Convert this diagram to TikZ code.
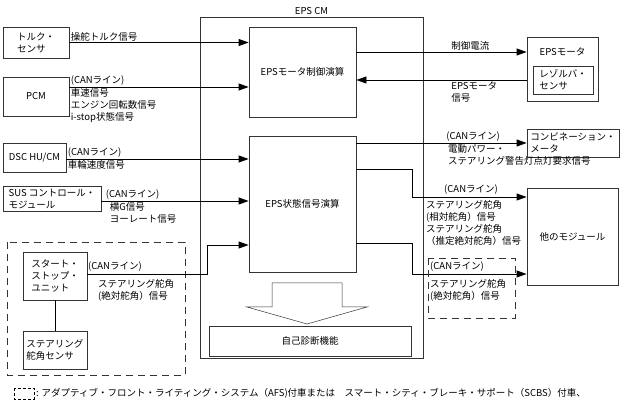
\documentclass[tikz,border=0pt]{standalone}
\usepackage{fontspec}
\setmainfont{Noto Sans CJK JP}
\usetikzlibrary{arrows.meta,positioning,calc}

\begin{document}
\begin{tikzpicture}[x=1pt, y=-1pt, font=\fontsize{9.5}{12}\selectfont,
    box/.style={draw=black!80, line width=0.8pt, inner sep=1pt, align=left},
    sig/.style={-{Triangle[length=10pt,width=7pt]}, line width=0.8pt},
    lbl/.style={inner sep=1pt, align=left},
    grp/.style={draw=black!80, line width=0.9pt, dash pattern=on 7pt off 5pt}]
  \useasboundingbox (0,0) rectangle (635,406);

  % EPS CM
  \node[box, minimum width=223pt, minimum height=341pt] (cm) at (311.5,187.5) {};
  \node[lbl, above=1pt of cm] (cmlbl) {EPS CM};
  \node[box, minimum width=107pt, minimum height=90pt] (mctl) at (302.5,72) {EPSモータ制御演算};
  \node[box, minimum width=107pt, minimum height=136pt] (stat) at (302.5,204) {EPS状態信号演算};
  \node[box, minimum width=202pt, minimum height=30pt] (diag) at (310,341) {自己診断機能};
  \draw[black!80, line width=0.5pt] (272,283) -- (342,283) -- (342,307) -- (367,307)
    -- (307,324) -- (247,307) -- (272,307) -- cycle;

  % inputs
  \node[box, minimum width=66pt, minimum height=31pt] (trq) at (36,42.5) {トルク・\\センサ};
  \node[box, minimum width=66pt, minimum height=39pt] (pcm) at (36,96.5) {PCM};
  \node[box, minimum width=63pt, minimum height=29pt] (dsc) at (34.5,157.5) {DSC HU/CM};
  \node[box, minimum width=98pt, minimum height=25pt] (sus) at (52,198.5) {SUS コントロール・\\モジュール};
  \draw[grp] (7,242) rectangle (185,375);
  \node[box, minimum width=64pt, minimum height=48pt] (ssu) at (55,276) {スタート・\\ストップ・\\ユニット};
  \node[box, minimum width=64pt, minimum height=38pt] (sas) at (55,350) {ステアリング\\舵角センサ};
  \draw[line width=0.8pt] (ssu) -- (sas);

  \draw[sig] (trq.east) -- (trq.east -| mctl.west)
    node[lbl, above right, pos=0] (trqs) {操舵トルク信号};
  \draw[sig] ([yshift=9.5pt]pcm.east) coordinate (pcmo) -- (pcmo -| mctl.west)
    node[lbl, above right, pos=0] (pcmcan) {(CANライン)}
    node[lbl, below right, pos=0] (pcms) {車速信号\\エンジン回転数信号\\i-stop状態信号};
  \draw[sig] ([yshift=-1.5pt]dsc.east) coordinate (dsco) -- (dsco -| stat.west)
    node[lbl, above right, pos=0] (dsccan) {(CANライン)}
    node[lbl, below right, pos=0] (dscs) {車輪速度信号};
  \draw[sig] ([yshift=-2.5pt]sus.east) coordinate (suso) -- (suso -| stat.west)
    node[lbl, above right, pos=0, xshift=3pt] (suscan) {(CANライン)}
    node[lbl, below right, pos=0, xshift=7pt] (suss) {横G信号\\ヨーレート信号};
  \coordinate (ssuk) at (207,245);
  \draw[sig] ([yshift=2pt]ssu.east) -| (ssuk) -- (ssuk -| stat.west);
  \node[lbl, anchor=south west] (ssucan) at (87,273) {(CANライン)};
  \node[lbl, anchor=north west] (ssus) at (97,278) {ステアリング舵角\\(絶対舵角）信号};

  % outputs
  \node[box, minimum width=71pt, minimum height=64pt] (mot) at (562.5,69) {};
  \node[lbl] (motlbl) at (562.5,52) {EPSモータ};
  \node[box, minimum width=60pt, minimum height=28pt] (res) at (563,80) {レゾルバ・\\センサ};
  \node[box, minimum width=92pt, minimum height=28pt] (meter) at (573,143) {コンビネーション・\\メータ};
  \node[box, minimum width=91pt, minimum height=97pt] (oth) at (572.5,236.5) {他のモジュール};

  \draw[sig] ([yshift=20pt]mctl.east) coordinate (mctlo) -- (mctlo -| mot.west)
    node[lbl, above, pos=0.67] (cur) {制御電流};
  \draw[sig] ([yshift=-11pt]mot.west) coordinate (moto) -- (moto -| mctl.east)
    node[lbl, below right, pos=0.45] (mots) {EPSモータ\\信号};
  \draw[sig] (meter.west -| stat.east) -- (meter.west)
    node[lbl, above right, pos=0.52] (metcan) {(CANライン)}
    node[lbl, below right, pos=0.53] (mets) {電動パワー・\\ステアリング警告灯点灯要求信号};
  \coordinate (ok1) at (412,169);
  \draw[sig] (ok1 -| stat.east) -- (ok1) |- ([yshift=39.5pt]oth.west);
  \node[lbl, anchor=south west] (othcan) at (443,196) {(CANライン)};
  \node[lbl, anchor=north west] (oths) at (425,199) {ステアリング舵角\\(相対舵角）信号\\ステアリング舵角\\（推定絶対舵角）信号};
  \coordinate (ok2) at (412,243);
  \draw[sig] (ok2 -| stat.east) -- (ok2) |- ([yshift=-37.5pt]oth.west);
  \draw[grp] (428,258) rectangle (515,318);
  \node[lbl, anchor=south west] (afscan) at (429,273) {(CANライン)};
  \node[lbl, anchor=north west] (afss) at (429,278) {ステアリング舵角\\(絶対舵角）信号};

  % legend
  \draw[line width=0.8pt, dash pattern=on 3pt off 2pt] (14,388) rectangle (34,399);
  \node[lbl, anchor=west] (legend) at (35,393.5) {: アダプティブ・フロント・ライティング・システム（AFS)付車または　スマート・シティ・ブレーキ・サポート（SCBS）付車、};
\end{tikzpicture}
\end{document}
